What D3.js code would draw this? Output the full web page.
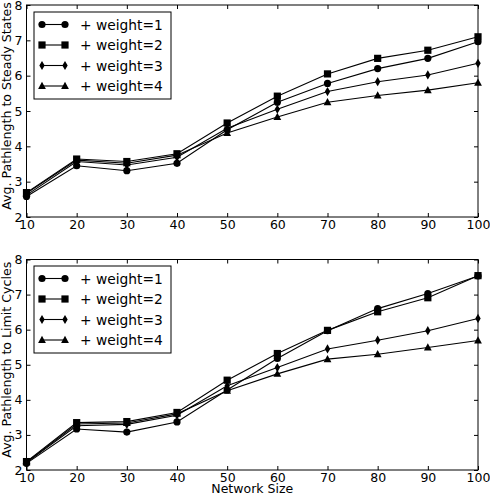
<!DOCTYPE html>
<html><head><meta charset="utf-8">
<script src="https://cdn.jsdelivr.net/npm/d3@7"></script>
<style>body{margin:0;background:#fff}text{font-family:"DejaVu Sans",sans-serif}</style>
</head><body><svg id="c" width="490" height="498"></svg>
<script>
const sizes = [10,20,30,40,50,60,70,80,90,100];
const seriesNames = ["+ weight=1","+ weight=2","+ weight=3","+ weight=4"];
const markers = ["circle","square","diamond","triangle"];
const yTicks = [2,3,4,5,6,7,8];
const steadyW1 = [2.58,3.45,3.31,3.52,4.47,5.25,5.78,6.20,6.49,6.96];
const steadyW2 = [2.69,3.64,3.57,3.79,4.66,5.42,6.05,6.49,6.72,7.10];
const steadyW3 = [2.62,3.57,3.47,3.69,4.51,5.05,5.55,5.83,6.02,6.35];
const steadyW4 = [2.67,3.61,3.52,3.75,4.38,4.83,5.25,5.44,5.59,5.80];
const cycleW1 = [2.19,3.17,3.08,3.37,4.28,5.18,5.97,6.60,7.03,7.53];
const cycleW2 = [2.24,3.35,3.38,3.64,4.56,5.32,5.98,6.51,6.91,7.54];
const cycleW3 = [2.21,3.26,3.30,3.56,4.40,4.92,5.45,5.70,5.97,6.32];
const cycleW4 = [2.22,3.31,3.34,3.60,4.26,4.74,5.16,5.30,5.49,5.69];

const svg = d3.select("#c");
function panel(top, bottom, ylabel, data, legendTop, xlabel){
  const L=26.5, R=478;
  const x=d3.scaleLinear().domain([10,100]).range([L,R]);
  const y=d3.scaleLinear().domain([2,8]).range([bottom,top]);
  const g=svg.append("g");
  g.append("g").attr("transform",`translate(0,${bottom})`)
    .call(d3.axisBottom(x).tickValues(sizes).tickSize(-4).tickPadding(3).tickFormat(d3.format("d")))
    .call(a=>a.select(".domain").remove()).call(a=>a.selectAll("text").attr("font-size",12.5).attr("fill","#000"));
  g.append("g").attr("transform",`translate(0,${top})`)
    .call(d3.axisTop(x).tickValues(sizes).tickSize(-4).tickFormat(""))
    .call(a=>a.select(".domain").remove());
  g.append("g").attr("transform",`translate(${L},0)`)
    .call(d3.axisLeft(y).tickValues(yTicks).tickSize(-4).tickPadding(4).tickFormat(d3.format("d")))
    .call(a=>a.select(".domain").remove()).call(a=>a.selectAll("text").attr("font-size",12.5).attr("fill","#000"));
  g.append("g").attr("transform",`translate(${R},0)`)
    .call(d3.axisRight(y).tickValues(yTicks).tickSize(-4).tickFormat(""))
    .call(a=>a.select(".domain").remove());
  g.selectAll(".tick line").attr("stroke","#000");
  g.append("rect").attr("x",L).attr("y",top).attr("width",R-L).attr("height",bottom-top)
    .attr("fill","none").attr("stroke","#000").attr("stroke-width",1);
  const line=d3.line().x((d,i)=>x(sizes[i])).y(d=>y(d));
  data.forEach((s,k)=>{
    g.append("path").datum(s).attr("d",line).attr("fill","none").attr("stroke","#000").attr("stroke-width",1.1);
    s.forEach((v,i)=>drawMarker(g,markers[k],x(sizes[i]),y(v)));
  });
  g.append("text").attr("transform",`translate(11,${(top+bottom)/2-5}) rotate(-90)`)
    .attr("text-anchor","middle").attr("font-size",12.6).text(ylabel);
  if(xlabel) g.append("text").attr("x",(L+R)/2).attr("y",bottom+23).attr("text-anchor","middle").attr("font-size",12.5).text(xlabel);
  const lg=g.append("g");
  lg.append("rect").attr("x",34).attr("y",legendTop).attr("width",137).attr("height",87)
    .attr("fill","#fff").attr("stroke","#000").attr("stroke-width",1);
  seriesNames.forEach((n,k)=>{
    const yy=legendTop+12.5+k*20.5;
    lg.append("line").attr("x1",42).attr("x2",65).attr("y1",yy).attr("y2",yy).attr("stroke","#000").attr("stroke-width",1.1);
    drawMarker(lg,markers[k],42,yy); drawMarker(lg,markers[k],65,yy);
    lg.append("text").attr("x",80).attr("y",yy+5).attr("font-size",13.8).text(n);
  });
}
function drawMarker(g,type,cx,cy){
  if(type==="circle") g.append("circle").attr("cx",cx).attr("cy",cy).attr("r",3.6);
  else if(type==="square") g.append("rect").attr("x",cx-3.6).attr("y",cy-3.6).attr("width",7.2).attr("height",7.2);
  else if(type==="diamond") g.append("path").attr("d",`M${cx},${cy-4.6}L${cx+2.7},${cy}L${cx},${cy+4.6}L${cx-2.7},${cy}Z`);
  else g.append("path").attr("d",`M${cx},${cy-4.2}L${cx+3.9},${cy+3}L${cx-3.9},${cy+3}Z`);
}
panel(5,217,"Avg. Pathlength to Steady States",[steadyW1,steadyW2,steadyW3,steadyW4],12,null);
panel(259.5,470,"Avg. Pathlength to Limit Cycles",[cycleW1,cycleW2,cycleW3,cycleW4],266,"Network Size");
</script></body></html>
